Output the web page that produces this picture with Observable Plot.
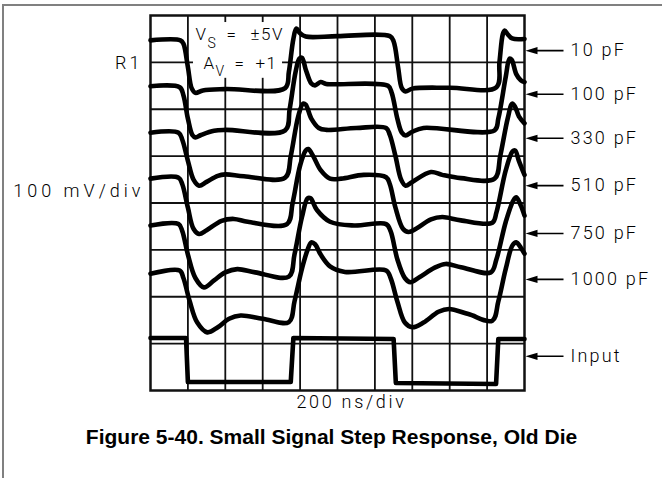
<!DOCTYPE html>
<html><head><meta charset="utf-8">
<script src="https://cdn.jsdelivr.net/npm/d3@7"></script>
<script src="https://cdn.jsdelivr.net/npm/@observablehq/plot@0.6"></script>
<style>
html,body{margin:0;padding:0;background:#fff;}
#wrap{position:relative;width:662px;height:478px;overflow:hidden;}
#wrap svg{position:absolute;left:0;top:0;}
.pg-top{position:absolute;left:2px;top:4px;width:660px;height:2px;background:#808080;}
.pg-left{position:absolute;left:2px;top:4px;width:2px;height:474px;background:#808080;}
</style></head><body><div id="wrap"></div>
<script>
// time in divisions (200 ns/div), amplitude in divisions (100 mV/div), traces offset on screen
const trace10pF = [[0,7.47],[0.8,7.47],[0.88,7.4],[1.0,6.9],[1.1,6.45],[1.2,6.35],[1.4,6.4],[2.0,6.43],[3.6,6.45],[3.7,6.8],[3.82,7.5],[3.9,7.72],[4.0,7.62],[4.15,7.55],[5.0,7.56],[6.4,7.56],[6.5,7.45],[6.62,6.9],[6.72,6.45],[6.82,6.38],[7.0,6.44],[8.0,6.46],[9.25,6.47],[9.33,7.0],[9.42,7.6],[9.47,7.68],[9.55,7.6],[9.67,7.51],[10,7.5]];
const trace100pF = [[0,6.49],[0.78,6.47],[0.88,6.3],[1.0,5.8],[1.12,5.45],[1.2,5.4],[1.35,5.45],[1.7,5.54],[2.0,5.56],[3.6,5.55],[3.72,6.0],[3.88,6.8],[3.98,7.08],[4.05,7.1],[4.15,6.85],[4.3,6.55],[4.4,6.51],[4.55,6.58],[4.7,6.54],[6.35,6.5],[6.45,6.35],[6.6,5.8],[6.72,5.5],[6.82,5.44],[7.0,5.52],[7.3,5.6],[9.2,5.55],[9.3,5.8],[9.5,6.7],[9.6,7.08],[9.66,7.05],[9.78,6.75],[9.9,6.62],[10,6.58]];
const trace330pF = [[0,5.5],[0.75,5.5],[0.85,5.35],[1.0,4.9],[1.15,4.5],[1.3,4.37],[1.5,4.45],[1.8,4.58],[2.0,4.61],[2.5,4.57],[3.6,4.54],[3.75,5.0],[3.95,5.85],[4.08,6.12],[4.15,6.1],[4.3,5.8],[4.5,5.6],[4.7,5.56],[5.5,5.6],[6.3,5.6],[6.4,5.45],[6.55,5.0],[6.7,4.5],[6.82,4.37],[7.0,4.45],[7.5,4.66],[7.8,4.6],[8.3,4.53],[9.2,4.52],[9.35,5.0],[9.55,5.8],[9.67,6.12],[9.75,6.05],[9.85,5.85],[10,5.7]];
const trace510pF = [[0,4.52],[0.75,4.54],[0.85,4.4],[1.0,3.9],[1.15,3.45],[1.3,3.34],[1.5,3.42],[1.9,3.62],[2.23,3.66],[2.6,3.6],[3.65,3.55],[3.8,4.0],[4.0,4.8],[4.15,5.12],[4.22,5.15],[4.35,5.0],[4.55,4.7],[4.8,4.52],[5.1,4.52],[5.7,4.6],[6.3,4.55],[6.4,4.4],[6.55,3.9],[6.75,3.45],[6.9,3.38],[7.1,3.45],[7.5,3.65],[7.8,3.7],[8.3,3.63],[9.14,3.58],[9.25,3.8],[9.5,4.7],[9.68,5.1],[9.75,5.12],[9.85,4.9],[10,4.6]];
const trace750pF = [[0,3.52],[0.75,3.55],[0.85,3.4],[1.0,2.9],[1.2,2.4],[1.43,2.2],[1.7,2.35],[2.0,2.52],[2.32,2.59],[2.8,2.52],[3.7,2.43],[3.85,2.9],[4.05,3.7],[4.2,4.1],[4.28,4.1],[4.45,3.85],[4.8,3.6],[5.44,3.52],[6.3,3.55],[6.42,3.4],[6.6,2.8],[6.8,2.4],[6.95,2.31],[7.2,2.42],[7.6,2.62],[7.89,2.7],[8.3,2.63],[9.1,2.52],[9.25,2.8],[9.5,3.6],[9.7,4.05],[9.78,4.12],[9.9,3.95],[10,3.73]];
const trace1000pF = [[0,2.49],[0.78,2.56],[0.88,2.4],[1.05,1.9],[1.25,1.45],[1.52,1.24],[1.8,1.35],[2.1,1.53],[2.41,1.6],[3.0,1.53],[3.7,1.46],[3.85,1.9],[4.05,2.6],[4.2,3.0],[4.3,3.16],[4.4,3.12],[4.55,2.9],[4.8,2.65],[5.2,2.53],[6.3,2.56],[6.42,2.4],[6.6,1.9],[6.8,1.45],[7.0,1.35],[7.3,1.45],[7.7,1.68],[7.98,1.74],[8.5,1.63],[9.14,1.49],[9.3,1.9],[9.5,2.6],[9.68,3.1],[9.78,3.16],[9.9,3.05],[10,2.92]];
const inputTrace = [[0,1.12],[0.95,1.12],[1.0,0.18],[3.75,0.18],[3.82,1.12],[6.5,1.1],[6.56,0.16],[9.24,0.14],[9.3,1.1],[10,1.1]];

const traces = [trace10pF, trace100pF, trace330pF, trace510pF, trace750pF, trace1000pF];
const labels = ["10 pF", "100 pF", "330 pF", "510 pF", "750 pF", "1000 pF", "Input"];
const labelLevels = [7.25, 6.32, 5.38, 4.37, 3.35, 2.37, 0.73];
const xTicks = [1,2,3,4,5,6,7,8,9];
const yTicks = [1,2,3,4,5,6,7];

const lightFont = "Roboto, 'DejaVu Sans', sans-serif";
const arrowSym = {draw(ctx) {
  ctx.moveTo(1, 0); ctx.lineTo(13, -3.6); ctx.lineTo(13, 3.6); ctx.closePath();
  ctx.moveTo(12, -0.8); ctx.lineTo(39, -0.8); ctx.lineTo(39, 0.8); ctx.lineTo(12, 0.8); ctx.closePath();
}};
const txt = (s, o) => Plot.text([s], {text: d => d, frameAnchor: "top-left", lineAnchor: "bottom", textAnchor: "start", fontFamily: lightFont, fontWeight: 300, fill: "black", ...o});
const lbl = {fontFamily: lightFont, fontWeight: 300, fontSize: 18, fill: "black"};

const plot = Plot.plot({
  width: 662, height: 478,
  marginLeft: 150, marginRight: 138, marginTop: 15, marginBottom: 88,
  x: {domain: [0, 10], axis: null},
  y: {domain: [0, 8], axis: null},
  style: {background: "white"},
  marks: [
    Plot.ruleX(xTicks, {stroke: "#111", strokeWidth: 1.8}),
    Plot.ruleY(yTicks, {stroke: "#111", strokeWidth: 1.8}),
    Plot.rect([0], {x1: 1.15, x2: 3.53, y1: 6.66, y2: 7.85, fill: "white"}),
    txt("V", {dx: 45, dy: 24, fontSize: 17}),
    txt("S", {dx: 57, dy: 32, fontSize: 14}),
    txt("=", {dx: 76, dy: 24, fontSize: 17}),
    txt("±5V", {dx: 100, dy: 24, fontSize: 17}),
    txt("A", {dx: 53, dy: 53, fontSize: 17}),
    txt("V", {dx: 65, dy: 60, fontSize: 14}),
    txt("=", {dx: 84, dy: 53, fontSize: 17}),
    txt("+1", {dx: 105, dy: 53, fontSize: 17}),
    Plot.frame({stroke: "#111", strokeWidth: 2.5}),
    ...traces.map(tr => Plot.line(tr, {curve: "catmull-rom", stroke: "black", strokeWidth: 4.6, strokeLinejoin: "round", strokeLinecap: "round"})),
    Plot.line(inputTrace, {curve: "linear", stroke: "black", strokeWidth: 4.6, strokeLinejoin: "round"}),
    Plot.dot(labelLevels, {x: () => 10, y: d => d, symbol: arrowSym, fill: "black", r: 4}),
    Plot.text(labels, {x: () => 10, y: (d, i) => labelLevels[i], text: d => d, dx: 46, textAnchor: "start", ...lbl}),
    Plot.text(["R1"], {text: d => d, frameAnchor: "top-left", lineAnchor: "middle", dx: -8, dy: 48, textAnchor: "end", ...lbl}),
    Plot.text(["100 mV/div"], {text: d => d, frameAnchor: "left", lineAnchor: "middle", dx: -6, dy: -12, textAnchor: "end", ...lbl}),
    Plot.text(["200 ns/div"], {text: d => d, frameAnchor: "bottom", lineAnchor: "middle", dx: 14, dy: 12, ...lbl}),
    Plot.text(["Figure 5-40. Small Signal Step Response, Old Die"], {text: d => d, frameAnchor: "bottom", lineAnchor: "middle", dx: -6, dy: 47, fontSize: 21, fontFamily: "'Liberation Sans', Arial, sans-serif", fontWeight: "bold", fill: "black"})
  ]
});
const spacing = {"100 mV/div": "4px", "200 ns/div": "2.7px", "R1": "3px"};
d3.select(plot).selectAll("text").each(function() {
  const s = this.textContent;
  if (s.startsWith("Figure")) return;
  d3.select(this).attr("letter-spacing", spacing[s] || (s.endsWith("pF") || s === "Input" ? "2.2px" : "1.5px"));
});
const wrap = document.getElementById("wrap");
wrap.appendChild(plot);
const t = document.createElement("div"); t.className = "pg-top"; wrap.appendChild(t);
const l = document.createElement("div"); l.className = "pg-left"; wrap.appendChild(l);
</script></body></html>
